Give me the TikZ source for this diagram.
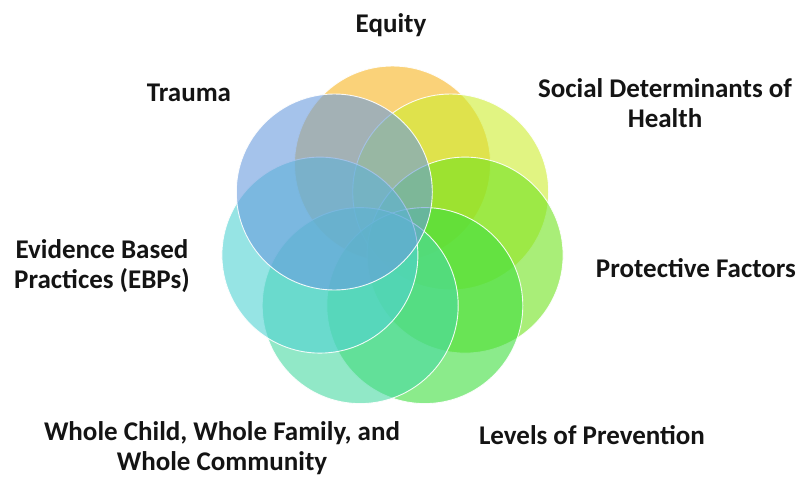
\documentclass[tikz,border=0pt]{standalone}
\usepackage{fontspec}
\setmainfont{Carlito}
\definecolor{cEquity}{HTML}{F7B421}
\definecolor{cSocial}{HTML}{CDEE2F}
\definecolor{cProt}{HTML}{71E31E}
\definecolor{cLevels}{HTML}{3FDE3F}
\definecolor{cWhole}{HTML}{48D9A3}
\definecolor{cEBP}{HTML}{50D2D2}
\definecolor{cTrauma}{HTML}{699BDE}
\begin{document}
\begin{tikzpicture}[x=1pt,y=-1pt,
  venn/.style={circle, minimum size=196pt, inner sep=0pt, outer sep=0pt,
    draw=white, line width=0.9pt, fill opacity=0.6, draw opacity=0.9},
  lbl/.style={font=\fontsize{27}{29.5}\selectfont\bfseries, align=center, text=black!92, inner sep=0pt}]
\useasboundingbox (0,0) rectangle (797,477);
\fill[white] (0,0) rectangle (797,477);
% circles, drawn in stacking order
\node[venn, fill=cEquity] (equity) at (392.5,164.0) {};
\node[venn, fill=cSocial] (social) at (450.7,192.0) {};
\node[venn, fill=cProt]   (prot)   at (465.1,255.1) {};
\node[venn, fill=cLevels] (levels) at (424.8,305.6) {};
\node[venn, fill=cWhole]  (whole)  at (360.2,305.6) {};
\node[venn, fill=cEBP]    (ebp)    at (319.9,255.1) {};
\node[venn, fill=cTrauma] (trauma) at (334.3,192.0) {};
% labels
\node[lbl] (tEquity) at (391,25) {Equity};
\node[lbl] (tTrauma) at (189,93) {Trauma};
\node[lbl] (tSocial) at (665,103) {Social Determinants of\\Health};
\node[lbl] (tProt)   at (696,268) {Protective Factors};
\node[lbl] (tEBP)    at (102,266) {Evidence Based\\Practices (EBPs)};
\node[lbl] (tWhole)  at (222,448) {Whole Child, Whole Family, and\\Whole Community};
\node[lbl] (tLevels) at (592,435) {Levels of Prevention};
\end{tikzpicture}
\end{document}
